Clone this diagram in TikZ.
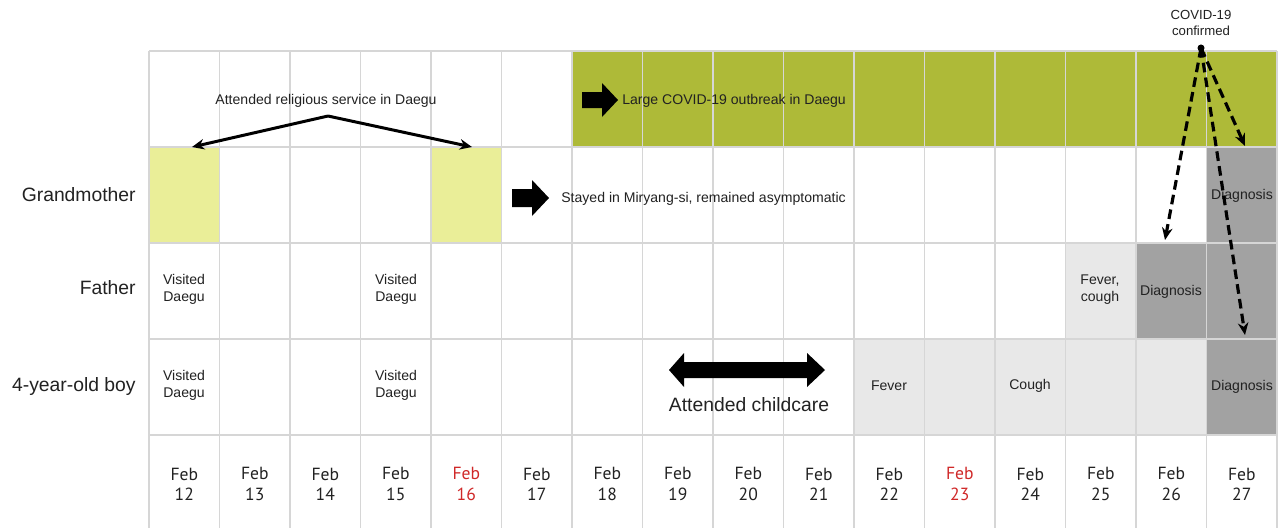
\documentclass[tikz,border=0pt]{standalone}
\usepackage{fontspec}
\setmainfont{Liberation Sans}
\newfontfamily\datefont{PT Sans}
\usetikzlibrary{arrows.meta}
\definecolor{cgreen}{RGB}{174,186,56}
\definecolor{cyellow}{RGB}{234,238,152}
\definecolor{clight}{RGB}{232,232,232}
\definecolor{cdark}{RGB}{162,162,162}
\definecolor{cred}{RGB}{208,40,40}
\definecolor{cgrid}{RGB}{214,214,214}
\definecolor{ctext}{RGB}{34,34,34}
\begin{document}
\begin{tikzpicture}[x=0.02cm,y=-0.02cm,
  gridline/.style={draw=cgrid,line width=0.8pt},
  small/.style={text=ctext,font=\fontsize{8}{9.6}\selectfont,align=center,inner sep=0pt},
  rowlab/.style={text=ctext,font=\fontsize{11}{13}\selectfont,anchor=east,inner sep=0pt},
  datelab/.style={font=\datefont\fontsize{10}{11.5}\selectfont,align=center,inner sep=0pt},
  blockarrow/.style={fill=black},
  solidarrow/.style={draw=black,line width=1.7pt,-{Stealth[length=7pt,width=6pt]}},
  dasharrow/.style={draw=black,line width=1.8pt,dash pattern=on 5.5pt off 3pt,-{Stealth[length=7pt,width=6pt]}}]
\useasboundingbox (0,0) rectangle (1281,528);
\fill[white] (0,0) rectangle (1281,528);
% cell fills
\fill[cgreen] (572,51) rectangle (1277,147);
\fill[cyellow] (149,147) rectangle (219.5,243);
\fill[cyellow] (431,147) rectangle (501.5,243);
\fill[cdark] (1206.5,147) rectangle (1277,339);
\fill[cdark] (1136,243) rectangle (1206.5,339);
\fill[clight] (1065.5,243) rectangle (1136,339);
\fill[clight] (854,339) rectangle (1206.5,435);
\fill[cdark] (1206.5,339) rectangle (1277,435);
% grid
\foreach \i in {0,...,16} \draw[gridline] ({149+70.5*\i},51) -- ({149+70.5*\i},528);
\foreach \y in {51,147,243,339,435} \draw[gridline] (149,\y) -- (1277,\y);
% row labels
\node[rowlab] (lgm) at (136,195) {Grandmother};
\node[rowlab] (lfa) at (136,288) {Father};
\node[rowlab] (lboy) at (136,386) {4-year-old boy};
% dates
\foreach \d/\c [count=\i from 0] in {12/ctext,13/ctext,14/ctext,15/ctext,16/cred,17/ctext,18/ctext,19/ctext,20/ctext,21/ctext,22/ctext,23/cred,24/ctext,25/ctext,26/ctext,27/ctext}
  \node[datelab,text=\c] (d\d) at ({149+70.5*(\i+0.5)},484) {Feb\\\d};
% top row texts
\node[small] (relig) at (326,101) {Attended religious service in Daegu};
\coordinate (peak) at (328,116);
\coordinate (tipL) at (192,147);
\coordinate (tipR) at (472,147);
\draw[solidarrow] (peak) -- (tipL);
\draw[solidarrow] (peak) -- (tipR);
\fill[blockarrow] (582,92) -- (602,92) -- (602,83) -- (618,100) -- (602,117) -- (602,108) -- (582,108) -- cycle;
\node[small,anchor=west] (outbreak) at (622,101) {Large COVID-19 outbreak in Daegu};
% grandmother row
\fill[blockarrow] (512,189) -- (532,189) -- (532,180) -- (549,198) -- (532,216) -- (532,207) -- (512,207) -- cycle;
\node[small,anchor=west] (stayed) at (561,199) {Stayed in Miryang-si, remained asymptomatic};
\node[small] (gdiag) at (1242,196) {Diagnosis};
% father row
\node[small] (fv1) at (184,289) {Visited\\Daegu};
\node[small] (fv2) at (396,289) {Visited\\Daegu};
\node[small] (ffc) at (1100,290) {Fever,\\cough};
\node[small] (fdiag) at (1171,292) {Diagnosis};
% boy row
\node[small] (bv1) at (184,385) {Visited\\Daegu};
\node[small] (bv2) at (396,385) {Visited\\Daegu};
\fill[blockarrow] (669,370) -- (684,353) -- (684,362) -- (807,362) -- (807,353) -- (825,370) -- (807,387) -- (807,378) -- (684,378) -- (684,387) -- cycle;
\node[text=ctext,font=\fontsize{11}{13}\selectfont,inner sep=0pt] (child) at (749,405) {Attended childcare};
\node[small] (bfever) at (889,386) {Fever};
\node[small] (bcough) at (1030,386) {Cough};
\node[small] (bdiag) at (1242,387) {Diagnosis};
% confirmed
\node[text=ctext,font=\fontsize{7.5}{9}\selectfont,align=center,inner sep=0pt] (conf) at (1201,23) {COVID-19\\confirmed};
\coordinate (orig) at (1201,48);
\fill[black] (orig) circle (2pt);
\coordinate (tF) at (1165,240);
\coordinate (tG) at (1245,146);
\coordinate (tB) at (1245,335);
\draw[dasharrow] (orig) -- (tF);
\draw[dasharrow] (orig) -- (tG);
\draw[dasharrow] (orig) -- (tB);
\end{tikzpicture}
\end{document}
